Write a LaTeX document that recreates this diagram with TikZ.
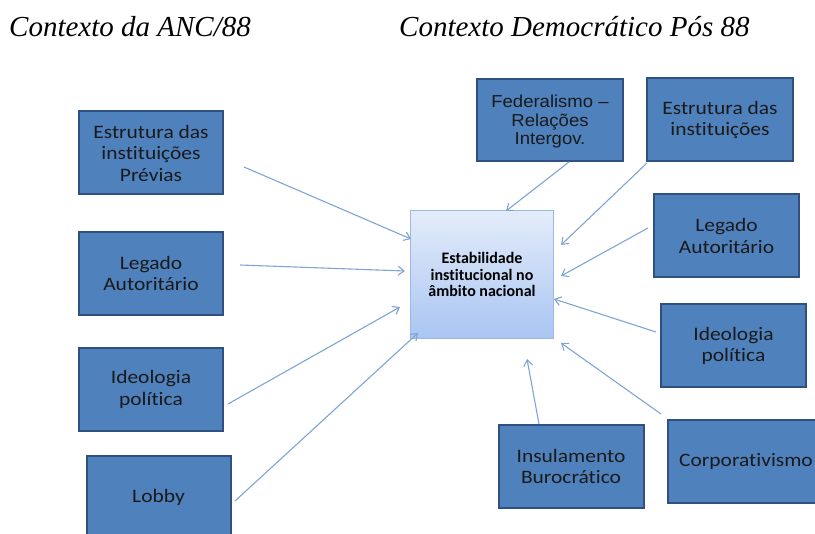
\documentclass[tikz,border=0pt]{standalone}
\usepackage{fontspec}
\setmainfont{Liberation Serif}
\newfontfamily\boxfont[FakeStretch=1.13,Ligatures=NoCommon]{Carlito}
\newfontfamily\fedfont[FakeStretch=1.07]{Liberation Sans}
\newfontfamily\centerfont[Ligatures=NoCommon]{Carlito}
\usetikzlibrary{arrows.meta}
\definecolor{boxfill}{HTML}{4F81BD}
\definecolor{boxline}{HTML}{2F5080}
\definecolor{arrowcol}{HTML}{7FA4D6}
\definecolor{ctop}{HTML}{E4ECFA}
\definecolor{cbot}{HTML}{A9C5F2}
\definecolor{cline}{HTML}{9DB9E0}
\definecolor{txt}{HTML}{1A1A1A}
\tikzset{
  factor/.style={draw=boxline, line width=2pt, fill=boxfill, minimum width=144pt,
    minimum height=83pt, align=center, text=txt, inner sep=0pt,
    font=\boxfont\fontsize{19}{21.5}\selectfont},
  fedbox/.style={factor, font=\fedfont\fontsize{17.3}{18.5}\selectfont},
  centerbox/.style={draw=cline, line width=1.2pt, top color=ctop, bottom color=cbot,
    minimum width=143pt, minimum height=128pt, align=center, text=black, inner sep=0pt,
    font=\centerfont\bfseries\fontsize{16}{16.5}\selectfont},
  title/.style={anchor=base west, inner sep=0pt, font=\itshape\fontsize{29}{32}\selectfont},
  link/.style={draw=arrowcol, line width=1.1pt, -{Straight Barb[length=6pt,width=9pt,line width=1.1pt]}}
}
\begin{document}
\begin{tikzpicture}[x=1pt,y=-1pt]
\useasboundingbox (0,0) rectangle (815,534);
% titles
\node[title] (t1) at (9,37) {Contexto da ANC/88};
\node[title] (t2) at (399,37) {Contexto Democrático Pós 88};
% center
\node[centerbox] (c) at (482,274.5) {Estabilidade\\institucional no\\âmbito nacional};
% left boxes
\node[factor] (l1) at (151,153) {Estrutura das\\instituições\\Prévias};
\node[factor] (l2) at (151,273.5) {Legado\\Autoritário};
\node[factor] (l3) at (151,389.5) {Ideologia\\política};
\node[factor] (l4) at (158.5,497.5) {Lobby};
% right boxes
\node[fedbox, minimum width=146pt, minimum height=82pt, text depth=-2pt] (r1) at (550,120) {Federalismo –\\Relações\\Intergov.};
\node[factor, minimum width=146pt] (r2) at (720,120) {Estrutura das\\instituições};
\node[factor, minimum width=145pt] (r3) at (726.5,236) {Legado\\Autoritário};
\node[factor, minimum width=145pt] (r4) at (733.5,346) {Ideologia\\política};
\node[factor, minimum width=145pt] (r5) at (571,466.5) {Insulamento\\Burocrático};
\node[factor, minimum width=156pt] (r6) at (746,461.5) {Corporativismo};
% arrow end points
\coordinate (a1s) at (244,167); \coordinate (a1e) at (411,239);
\coordinate (a2s) at (240,265); \coordinate (a2e) at (405,271);
\coordinate (a3s) at (228,404); \coordinate (a3e) at (400,307);
\coordinate (a4s) at (235,501); \coordinate (a4e) at (418,333);
\coordinate (a5s) at (569,162); \coordinate (a5e) at (506,211);
\coordinate (a6s) at (647,163); \coordinate (a6e) at (561,245);
\coordinate (a7s) at (648,228); \coordinate (a7e) at (561,276);
\coordinate (a8s) at (656,332); \coordinate (a8e) at (554,299);
\coordinate (a9s) at (661,414); \coordinate (a9e) at (561,343);
\coordinate (a10s) at (539,424); \coordinate (a10e) at (527,359);
\foreach \i in {1,...,10} { \draw[link] (a\i s) -- (a\i e); }
\end{tikzpicture}
\end{document}
